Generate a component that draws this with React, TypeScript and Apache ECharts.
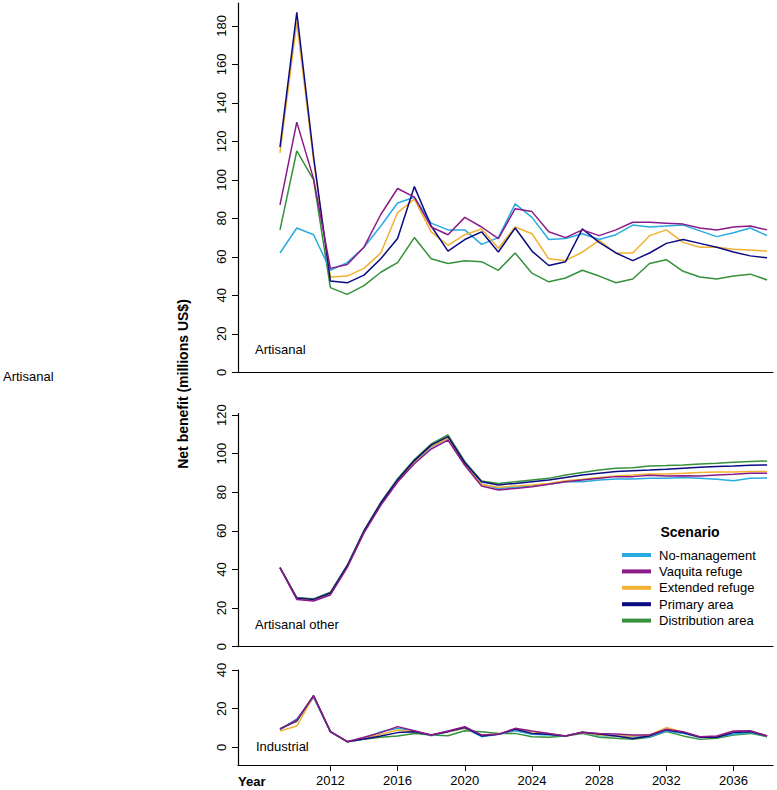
import React, { useEffect, useRef } from "react";
import * as echarts from "echarts";

const years = [2009, 2010, 2011, 2012, 2013, 2014, 2015, 2016, 2017, 2018, 2019, 2020, 2021, 2022, 2023, 2024, 2025, 2026, 2027, 2028, 2029, 2030, 2031, 2032, 2033, 2034, 2035, 2036, 2037, 2038];

const scenarios = ["No-management", "Vaquita refuge", "Extended refuge", "Primary area", "Distribution area"];
const colors = ["#29ABE2", "#8B1A89", "#F2B130", "#0B0B82", "#35913A"];
// drawing order (first drawn at the bottom)
const drawOrder = [4, 0, 2, 3, 1];

// Artisanal
const artNoMgmt = [62, 75, 71.5, 53, 57, 65, 76, 88, 91, 77.5, 74, 74, 66.5, 70, 87.5, 80.5, 69, 69.5, 72, 69, 71.5, 76.5, 75.5, 76, 76.5, 73.5, 70.5, 72.5, 75, 71];
const artVaquita = [87, 130, 100.5, 54, 56, 65, 82, 95.5, 91, 75.5, 71.5, 80.5, 75.5, 69.5, 85, 83.5, 73, 70, 74, 71, 74, 78, 78, 77.5, 77, 75, 74, 75.5, 76, 74];
const artExtended = [114, 182, 110, 49.5, 50, 54, 62, 83, 90, 73, 66, 71.5, 74.5, 64.5, 75.5, 72, 59, 58, 62.5, 68.5, 62, 62, 71, 74, 67.5, 65, 65, 64, 63.5, 63];
const artPrimary = [117, 187, 112, 47.5, 46.5, 50.5, 59, 69.5, 96.5, 76, 63, 69, 73, 62.5, 75, 63, 55.5, 57.5, 74.5, 67.5, 62, 58, 62, 67, 69, 67, 65, 62.5, 60.5, 59.5];
const artDistribution = [74, 115, 100, 44, 40.5, 45, 52, 57, 70, 59, 56.5, 58, 57.5, 53, 62, 51.5, 47, 49, 53, 50, 46.5, 48.5, 56.5, 58.5, 52.5, 49.5, 48.5, 50, 51, 48];

// Artisanal other
const othNoMgmt = [41, 25, 24.3, 27.5, 41.5, 59.5, 74, 86, 95.5, 103.5, 108, 94.5, 84.3, 82, 82.6, 83.2, 84.1, 85.5, 85.5, 86.4, 86.9, 86.9, 87.2, 87.2, 87.6, 87.2, 86.7, 86, 87.2, 87.4];
const othVaquita = [41, 24.5, 23.7, 26.8, 41, 59, 73.2, 85.3, 94.8, 102.4, 107, 94, 83.2, 81.2, 82, 82.9, 84.1, 85.5, 86.4, 87.2, 88.1, 88.1, 88.8, 88.4, 88.6, 88.4, 88.9, 89.3, 89.8, 89.8];
const othExtended = [41, 25, 24.3, 27.6, 41.5, 59.5, 74, 86, 95.8, 103.8, 108, 94.5, 84, 82.6, 83.2, 83.8, 84.6, 86, 86.7, 87.7, 88.4, 88.9, 89.5, 89.5, 89.8, 90.2, 90.5, 90.5, 90.8, 90.8];
const othPrimary = [41, 25.2, 24.5, 27.8, 41.8, 59.8, 74.3, 86.4, 96.4, 104.4, 108.8, 95.3, 85.5, 83.8, 84.6, 85.5, 86.4, 87.7, 88.9, 89.8, 90.7, 91.2, 91.5, 91.9, 92.4, 92.9, 93.3, 93.6, 94, 94.1];
const othDistribution = [41, 25.4, 24.8, 28.2, 42.2, 60.3, 74.8, 87, 97, 105, 109.7, 96, 85.8, 84.6, 85.5, 86.4, 87.2, 88.9, 90.2, 91.5, 92.4, 92.7, 93.6, 93.8, 94.1, 94.6, 95, 95.5, 95.9, 96.2];

// Industrial
const indNoMgmt = [9, 14.7, 25.7, 8, 2.9, 4.5, 8.1, 9.8, 8.4, 5.9, 8.1, 9.8, 5.5, 6.7, 8.6, 6.7, 6.4, 5.9, 7.8, 6, 5.9, 5.5, 5.5, 8.4, 7.2, 5, 5.5, 6.7, 7.8, 5.9];
const indVaquita = [9.5, 14, 26.7, 8.1, 2.9, 5.2, 7.6, 10.7, 8.6, 6.4, 8.4, 10.7, 6.4, 6.7, 9.8, 8.4, 7.2, 5.9, 7.8, 7.2, 6.9, 6.4, 6.4, 9.3, 8.1, 5.5, 5.9, 8.4, 8.6, 5.9];
const indExtended = [8.4, 11, 26.5, 8.1, 2.9, 4.5, 6.7, 9, 8.1, 6.4, 8.1, 9.8, 6.4, 6.7, 9.3, 8.1, 7.2, 5.9, 7.8, 6.4, 5.9, 5.9, 6.4, 10.2, 7.8, 5.2, 5.5, 8.1, 8.4, 5.9];
const indPrimary = [9.5, 13.8, 26.7, 8.1, 2.9, 4.3, 5.9, 7.6, 8.1, 6.4, 8.1, 10.2, 5.9, 6.7, 9.3, 7.2, 6.7, 5.9, 7.8, 6.9, 5.9, 4.5, 5.9, 9, 7.6, 5.2, 5.2, 7.6, 8.1, 5.9];
const indDistribution = [9.5, 13.4, 26.7, 8.1, 2.9, 4.1, 5.2, 5.9, 7.2, 6.4, 6, 8.6, 8.1, 7.2, 7.2, 5.5, 5.2, 5.9, 7.2, 5.2, 4.7, 4.1, 5.2, 8.1, 5.9, 4.1, 4.7, 6.4, 7.2, 5.5];

const xTicks = [2012, 2016, 2020, 2024, 2028, 2032, 2036];
const yTicksArt = [0, 20, 40, 60, 80, 100, 120, 140, 160, 180];
const yTicksOther = [0, 20, 40, 60, 80, 100, 120];
const yTicksInd = [0, 20, 40];

const panelNames = ["Artisanal", "Artisanal other", "Industrial"];
const yTitle = "Net benefit (millions US$)";
const xTitle = "Year";
const legendTitle = "Scenario";

const FONT = "'Liberation Sans', Arial, Helvetica, sans-serif";

export default function App() {
  const ref = useRef<HTMLDivElement>(null);
  useEffect(() => {
    if (!ref.current) return;
    const chart = echarts.init(ref.current, null, { renderer: "svg" });
    const panels = [
      [artNoMgmt, artVaquita, artExtended, artPrimary, artDistribution],
      [othNoMgmt, othVaquita, othExtended, othPrimary, othDistribution],
      [indNoMgmt, indVaquita, indExtended, indPrimary, indDistribution],
    ];
    const grids = [
      { left: 238, width: 535, top: 3, height: 369.3 },
      { left: 238, width: 535, top: 413.5, height: 233.2 },
      { left: 238, width: 535, top: 670, height: 95 },
    ];
    const yRanges = [
      [0, 191.9, yTicksArt],
      [0, 120.8, yTicksOther],
      [-9.16, 40, yTicksInd],
    ] as const;
    const axisLine = { show: true, onZero: false, lineStyle: { color: "#000", width: 1.2 } };
    const xAxes = grids.map((_, i) => ({
      type: "value",
      gridIndex: i,
      min: 2006.5,
      max: 2038.35,
      axisLine,
      splitLine: { show: false },
      axisTick: i === 2 ? { show: true, length: 6, customValues: xTicks, lineStyle: { color: "#000" } } : { show: false },
      axisLabel: i === 2
        ? { show: true, customValues: xTicks, margin: 9, color: "#000", fontSize: 13, fontFamily: FONT, formatter: (v: number) => String(v) }
        : { show: false },
    }));
    const yAxes = yRanges.map((r, i) => ({
      type: "value",
      gridIndex: i,
      min: r[0],
      max: r[1],
      axisLine,
      splitLine: { show: false },
      axisTick: { show: true, length: 6, customValues: r[2] as unknown as number[], lineStyle: { color: "#000" } },
      axisLabel: {
        show: true,
        customValues: r[2] as unknown as number[],
        rotate: 90,
        margin: 10,
        color: "#000",
        fontSize: 13,
        fontFamily: FONT,
      },
    }));
    const series: any[] = [];
    panels.forEach((vals, pi) => {
      drawOrder.forEach((si) => {
        const arr = vals[si];
        series.push({
          type: "line",
          name: scenarios[si],
          xAxisIndex: pi,
          yAxisIndex: pi,
          data: years.map((y, k) => [y, arr[k]]),
          showSymbol: false,
          symbol: "none",
          lineStyle: { color: colors[si], width: 1.5 },
          itemStyle: { color: colors[si] },
          silent: true,
        });
      });
    });
    const panelLabelPos = [
      [255, 350],
      [255, 625],
      [256, 747],
    ];
    const graphic: any[] = panelNames.map((n, i) => ({
      type: "text",
      left: panelLabelPos[i][0],
      top: panelLabelPos[i][1] - 7,
      style: { text: n, fontSize: 13, fontFamily: FONT, fill: "#000" },
    }));
    graphic.push({
      type: "text",
      left: 3,
      top: 370,
      style: { text: panelNames[0], fontSize: 13, fontFamily: FONT, fill: "#000" },
    });
    graphic.push({
      type: "text",
      x: 183,
      y: 384,
      rotation: Math.PI / 2,
      style: {
        text: yTitle,
        fontSize: 14,
        fontWeight: "bold",
        fontFamily: FONT,
        fill: "#000",
        textAlign: "center",
        textVerticalAlign: "middle",
      },
    });
    graphic.push({
      type: "text",
      left: 238,
      top: 775,
      style: { text: xTitle, fontSize: 13, fontWeight: "bold", fontFamily: FONT, fill: "#000" },
    });
    graphic.push({
      type: "text",
      x: 690,
      y: 532,
      style: {
        text: legendTitle,
        fontSize: 14,
        fontWeight: "bold",
        fontFamily: FONT,
        fill: "#000",
        textAlign: "center",
        textVerticalAlign: "middle",
      },
    });
    chart.setOption({
      animation: false,
      grid: grids,
      xAxis: xAxes,
      yAxis: yAxes,
      series,
      graphic,
      legend: {
        data: scenarios.map((s) => ({ name: s, icon: "rect" })),
        orient: "vertical",
        left: 617,
        top: 543,
        itemWidth: 29,
        itemHeight: 4,
        itemGap: 2.4,
        selectedMode: false,
        textStyle: { fontSize: 13, lineHeight: 14, fontFamily: FONT, color: "#000", padding: [0, 0, 0, 3] },
      },
    });
    return () => chart.dispose();
  }, []);
  return (
    <div
      ref={ref}
      style={{ position: "absolute", left: 0, top: 0, width: 777, height: 790, background: "#fff" }}
    />
  );
}
